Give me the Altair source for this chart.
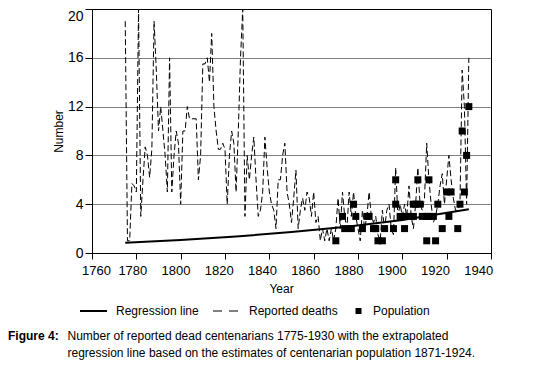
import altair as alt
import pandas as pd

# ---------------- data ----------------
death_years = list(range(1775, 1931))
deaths = [
    19, 1, 1, 5.7, 5.5, 5, 20, 3, 6, 8.7, 8, 6.2, 8.5, 19, 15, 10, 12, 10, 8, 5,          # 1775-1794
    16, 5, 8, 10, 9, 4, 10, 10, 12, 11, 11, 11, 11, 6, 8, 15.5, 15.5, 16, 14, 18,          # 1795-1814
    12, 10, 8.5, 8.5, 9, 8.5, 4, 8, 10, 9, 5, 10, 16, 20, 3, 8, 6, 8, 9.5, 6,              # 1815-1834
    3, 3.5, 5, 9.5, 7, 5, 4, 3.5, 2, 6, 6, 8, 9, 5, 4, 2.5, 4.5, 6.8, 2, 3.5,              # 1835-1854
    4.5, 3.5, 5, 4.5, 3, 5, 2.5, 3, 1, 2, 1, 2, 1, 2, 1, 2, 4.5, 2, 5, 3,                   # 1855-1874
    2, 5, 3, 5, 3, 2, 1, 3.5, 2, 3, 5, 3, 2.5, 3, 1.5, 1, 3.5, 2, 3.5, 4,                   # 1875-1894
    2, 1.5, 7, 3, 4, 3, 4, 3, 5.5, 3, 2, 4, 7, 4, 3.5, 4.5, 9, 6, 4, 2.5,                   # 1895-1914
    3, 4, 5.5, 6.5, 4, 6, 8, 6, 4.5, 3.5, 3.5, 4, 15, 12, 4, 16,                           # 1915-1930
]

pop_years = [1870, 1889, 1891, 1911, 1915,
             1874, 1877, 1882, 1887, 1888, 1892, 1896, 1901, 1918, 1925,
             1873, 1879, 1884, 1885, 1899, 1901, 1903, 1905, 1909, 1911, 1912, 1914, 1921,
             1878, 1897, 1905, 1906, 1908, 1916, 1926,
             1920, 1922, 1928,
             1897, 1907, 1912,
             1929, 1927, 1930]
pop_values = [1, 1, 1, 1, 1,
              2, 2, 2, 2, 2, 2, 2, 2, 2, 2,
              3, 3, 3, 3, 3, 3, 3, 3, 3, 3, 3, 3, 3,
              4, 4, 4, 4, 4, 4, 4,
              5, 5, 5,
              6, 6, 6,
              8, 10, 12]

reg_years = [1775, 1800, 1825, 1850, 1875, 1900, 1930]
reg_values = [0.85, 1.07, 1.35, 1.72, 2.15, 2.7, 3.58]

x_ticks = [1760, 1780, 1800, 1820, 1840, 1860, 1880, 1900, 1920, 1940]
y_ticks = list(range(0, 21))

legend_labels = ["Regression line", "Reported deaths", "Population"]
caption_head = "Figure 4:"
caption_lines = ["Number of reported dead centenarians 1775-1930 with the extrapolated",
                 "regression line based on the estimates of centenarian population 1871-1924."]

# ---------------- chart ----------------
W, H = 399, 244
FONT = "Liberation Sans"

df_deaths = pd.DataFrame({"year": death_years, "value": deaths})
df_pop = pd.DataFrame({"year": pop_years, "value": pop_values})
df_reg = pd.DataFrame({"year": reg_years, "value": reg_values})

xscale = alt.Scale(domain=[1760, 1940], nice=False, zero=False)
yscale = alt.Scale(domain=[0, 20], nice=False)

xaxis = alt.Axis(
    values=x_ticks, format="d", tickSize=6, labelPadding=5,
    labelFont=FONT, labelFontSize=13, labelColor="black",
    tickColor="black", domainColor="black", grid=False,
    labelFlush=False, labelOverlap=False,
    labelOffset={"condition": {"test": "datum.value === 1760", "value": 4},
                 "expr": "-4 - (datum.value - 1780) * 0.055"},
    title="Year", titleFont=FONT, titleFontSize=12, titleFontWeight="normal",
    titleColor="black", titleX=189, titleY=35, titleBaseline="middle", titleAlign="center",
)
yaxis = alt.Axis(
    values=y_ticks,
    tickSize={"condition": {"test": "datum.value % 4 === 0", "value": 7}, "value": 4},
    labelExpr="datum.value % 4 === 0 ? datum.label : ''",
    labelOffset={"condition": {"test": "datum.value === 20", "value": 7}, "value": 0},
    labelFont=FONT, labelFontSize=14, labelColor="black", labelPadding=2,
    tickColor="black", domainColor="black",
    grid=True, gridColor="black", gridDash=[1, 1],
    gridOpacity={"condition": {"test": "datum.value % 4 === 0 && datum.value > 0 && datum.value < 20",
                               "value": 1}, "value": 0},
    labelOverlap=False, labelFlush=False,
    title="Number", titleFont=FONT, titleFontSize=12, titleFontWeight="normal",
    titleColor="black", titleX=-34, titleY=122, titleAngle=270,
    titleBaseline="middle", titleAlign="center",
)

x = alt.X("year:Q", scale=xscale, axis=xaxis)
y = alt.Y("value:Q", scale=yscale, axis=yaxis)

deaths_line = alt.Chart(df_deaths).mark_line(
    color="black", strokeWidth=1, strokeDash=[6, 3]
).encode(x=x, y=y)

reg_line = alt.Chart(df_reg).mark_line(color="black", strokeWidth=2).encode(
    x=alt.X("year:Q", scale=xscale), y=alt.Y("value:Q", scale=yscale))

pop_pts = alt.Chart(df_pop).mark_square(color="black", opacity=1, size=49).encode(
    x=alt.X("year:Q", scale=xscale), y=alt.Y("value:Q", scale=yscale))

one = pd.DataFrame({"k": [0]})
LY = 302
leg_solid = alt.Chart(one).mark_rule(color="black", strokeWidth=2).encode(
    x=alt.value(-12), x2=alt.value(15), y=alt.value(LY))
leg_dash = alt.Chart(one).mark_rule(color="black", strokeWidth=1, strokeDash=[9, 7]).encode(
    x=alt.value(121), x2=alt.value(148), y=alt.value(LY))
leg_sq = alt.Chart(one).mark_square(color="black", opacity=1, size=36).encode(
    x=alt.value(266.5), y=alt.value(LY))

df_leg = pd.DataFrame({"t": legend_labels, "px": [24, 157, 281]})
leg_text = alt.Chart(df_leg).mark_text(
    font=FONT, fontSize=12, align="left", baseline="middle", color="black"
).encode(x=alt.X("px:Q", scale=None), y=alt.value(LY), text="t:N")

cap_head = alt.Chart(pd.DataFrame({"t": [caption_head]})).mark_text(
    font=FONT, fontSize=12, fontWeight="bold", align="left", baseline="middle", color="black"
).encode(x=alt.value(-84), y=alt.value(327), text="t:N")
df_cap = pd.DataFrame({"t": caption_lines, "py": [327, 343.5]})
cap_text = alt.Chart(df_cap).mark_text(
    font=FONT, fontSize=12, align="left", baseline="middle", color="black"
).encode(x=alt.value(-24.5), y=alt.Y("py:Q", scale=None), text="t:N")

chart = alt.layer(
    deaths_line, reg_line, pop_pts, leg_solid, leg_dash, leg_sq, leg_text, cap_head, cap_text
).properties(
    width=W, height=H,
    padding={"left": 84, "top": 1, "right": 30, "bottom": 112},
    autosize=alt.AutoSizeParams(type="none"),
    background="white",
).configure_view(stroke="black", strokeWidth=1)

chart.save("out.html", embed_options={"renderer": "svg", "actions": False})
